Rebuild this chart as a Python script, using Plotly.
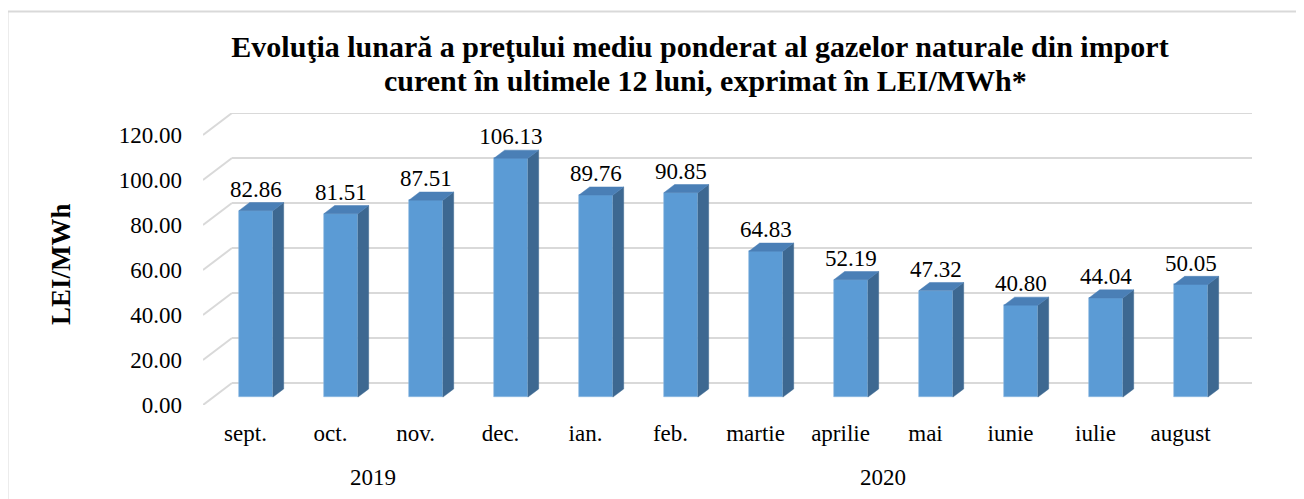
import plotly.graph_objects as go

# ---- data ----
categories = ["sept.", "oct.", "nov.", "dec.", "ian.", "feb.", "martie",
              "aprilie", "mai", "iunie", "iulie", "august"]
values = [82.86, 81.51, 87.51, 106.13, 89.76, 90.85, 64.83,
          52.19, 47.32, 40.80, 44.04, 50.05]
years = ["2019", "2020"]
year_spans = [(0, 3), (4, 11)]
y_ticks = [0, 20, 40, 60, 80, 100, 120]

# ---- layout geometry (window pixels; page body has an 8px margin) ----
OFF = 8
W_PX, H_PX = 1304 - OFF, 499 - OFF
PL, PR, PT, PB = 203, 1252, 113, 405      # plot-area box in window pixels
L, T = PL - OFF, PT - OFF
R = W_PX - (PR - OFF)
B = H_PX - (PB - OFF)
plot_w = PR - PL
plot_h = PB - PT


def px_x(px):   # window pixel x -> paper
    return (px - PL) / plot_w


def px_y(py):   # window pixel y -> paper
    return (PB - py) / plot_h


DX = 29 / 85.0          # category units per depth unit
YMAX = 120
px_per_val = 2.25
DY = 22 / px_per_val    # value units per depth unit
yrange_top = plot_h / px_per_val
d0, d1 = 0.36, 0.73     # bar front / back depth
hw = 0.2                # bar half width (category units)

FRONT = "#5B9BD5"
SIDE = "#3D6891"
TOP = "#4A7FB6"
GRID = "#D9D9D9"
FONT = "Liberation Serif, Times New Roman, serif"

fig = go.Figure()

# side and top faces
sx, sy, tx, ty = [], [], [], []
for i, v in enumerate(values):
    xf = i + d0 * DX
    xb = i + d1 * DX
    sx += [xf + hw, xf + hw, xb + hw, xb + hw, xf + hw, None]
    sy += [d0 * DY, v + d0 * DY, v + d1 * DY, d1 * DY, d0 * DY, None]
    tx += [xf - hw, xf + hw, xb + hw, xb - hw, xf - hw, None]
    ty += [v + d0 * DY, v + d0 * DY, v + d1 * DY, v + d1 * DY, v + d0 * DY, None]
fig.add_trace(go.Scatter(x=sx, y=sy, mode="lines", fill="toself",
                         fillcolor=SIDE, line=dict(color=SIDE, width=0.5),
                         hoverinfo="skip", showlegend=False))
fig.add_trace(go.Scatter(x=tx, y=ty, mode="lines", fill="toself",
                         fillcolor=TOP, line=dict(color=TOP, width=0.5),
                         hoverinfo="skip", showlegend=False))

# front faces
fig.add_trace(go.Bar(x=[i + d0 * DX for i in range(len(values))], y=values,
                     base=d0 * DY, width=2 * hw,
                     marker=dict(color=FRONT, line=dict(color="#8DB8E2", width=0.6)),
                     hoverinfo="skip", showlegend=False))

# data labels
fig.add_trace(go.Scatter(x=[i + d0 * DX for i in range(len(values))],
                         y=[v + d1 * DY for v in values],
                         mode="text", text=[f"{v:.2f}" for v in values],
                         textposition="top center",
                         textfont=dict(family=FONT, size=23, color="#000000"),
                         cliponaxis=False, hoverinfo="skip", showlegend=False))

# gridlines (back wall + left wall) as shapes beneath the bars
shapes = []
for t in y_ticks:
    shapes.append(dict(type="line", xref="x", yref="y", x0=-0.5, y0=t,
                       x1=-0.5 + DX, y1=t + DY, layer="below",
                       line=dict(color=GRID, width=2)))
    shapes.append(dict(type="line", xref="x", yref="y", x0=-0.5 + DX, y0=t + DY,
                       x1=len(categories) - 0.5 + DX, y1=t + DY, layer="below",
                       line=dict(color=GRID, width=2)))
# chart border
shapes.append(dict(type="rect", xref="paper", yref="paper",
                   x0=px_x(7.5), x1=px_x(1330), y0=px_y(530), y1=px_y(11.5),
                   line=dict(color=GRID, width=2), fillcolor="rgba(0,0,0,0)",
                   layer="below"))

annotations = []
for yr, (a, b) in zip(years, year_spans):
    annotations.append(dict(x=(a + b) / 2, xref="x", y=px_y(477), yref="paper",
                            text=yr, showarrow=False, yanchor="middle",
                            font=dict(family=FONT, size=23, color="#000000")))
annotations.append(dict(x=px_x(61), xref="paper", y=px_y(264), yref="paper",
                        text="<b>LEI/MWh</b>", textangle=-90, showarrow=False,
                        xanchor="center", yanchor="middle",
                        font=dict(family=FONT, size=27, color="#000000")))
annotations.append(dict(x=px_x(705), xref="paper", y=px_y(80), yref="paper",
                        text="<b>curent în ultimele 12 luni, exprimat în LEI/MWh*</b>",
                        showarrow=False, xanchor="center", yanchor="middle",
                        font=dict(family=FONT, size=30, color="#000000")))

fig.update_layout(
    width=W_PX, height=H_PX,
    margin=dict(l=L, r=R, t=T, b=B, autoexpand=False),
    paper_bgcolor="white", plot_bgcolor="white",
    title=dict(text="<b>Evoluţia lunară a preţului mediu ponderat al gazelor naturale din import</b>",
               x=(700 - OFF) / W_PX, xanchor="center", xref="container",
               y=1 - (46 - OFF) / H_PX, yanchor="middle", yref="container",
               font=dict(family=FONT, size=30, color="#000000")),
    xaxis=dict(range=[-0.5, len(categories) - 0.5 + DX],
               tickvals=list(range(len(categories))),
               ticktext=categories, showgrid=False, zeroline=False, showline=False,
               ticks="", ticklabelstandoff=12,
               tickfont=dict(family=FONT, size=23, color="#000000"), fixedrange=True),
    yaxis=dict(range=[0, yrange_top], tickvals=y_ticks,
               ticktext=[f"{t:.2f}" for t in y_ticks], showgrid=False, zeroline=False,
               showline=False, ticks="", ticklabelstandoff=20,
               tickfont=dict(family=FONT, size=23, color="#000000"), fixedrange=True),
    annotations=annotations,
    shapes=shapes,
    bargap=0,
)

fig.write_html("out.html")
